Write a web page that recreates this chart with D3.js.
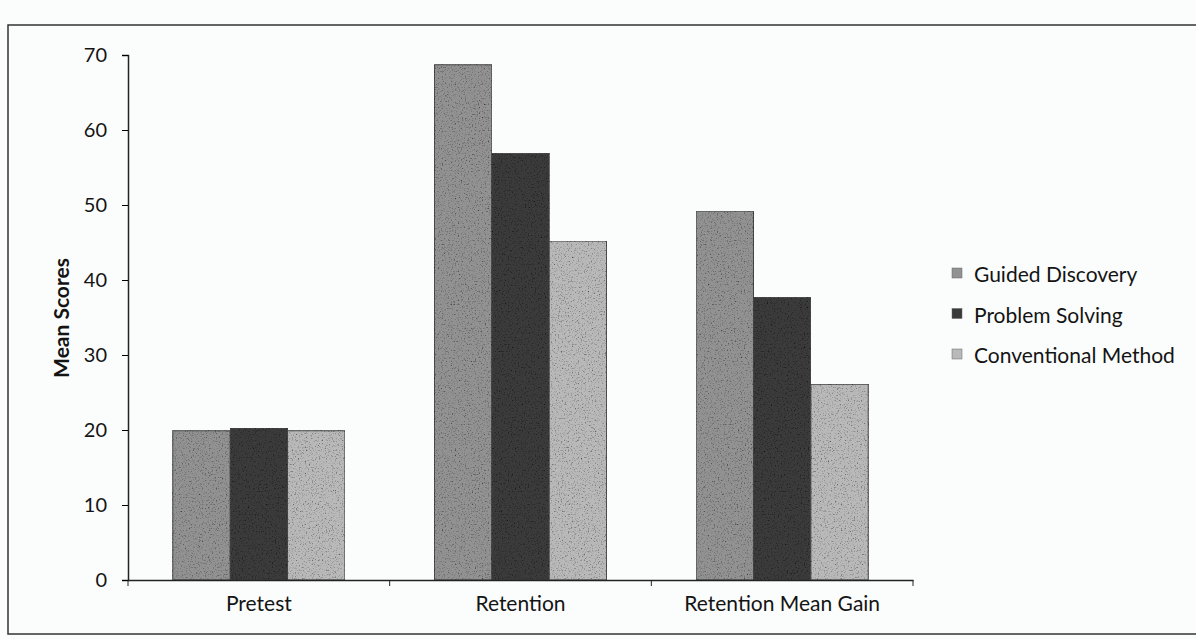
<!DOCTYPE html>
<html>
<head>
<meta charset="utf-8">
<script src="https://cdn.jsdelivr.net/npm/d3@7"></script>
<style>
body{margin:0;background:#fbfdfd;}
text{font-family:Lato,'Open Sans',sans-serif;fill:#141414;}
</style>
</head>
<body>
<script>
var categories=['Pretest','Retention','Retention Mean Gain'];
var seriesNames=['Guided Discovery','Problem Solving','Conventional Method'];
var guidedDiscovery=[19.9,68.7,49.2];
var problemSolving=[20.2,56.9,37.7];
var conventionalMethod=[19.9,45.2,26.1];
var yTickValues=[0,10,20,30,40,50,60,70];
var seriesColors=['#929292','#3a3a3a','#b9b9b9'];

var width=1196;
var height=639;

var seriesValues=[guidedDiscovery,problemSolving,conventionalMethod];
var table=categories.map(function(c,i){
    return {category:c,values:seriesNames.map(function(s,j){return {series:s,value:seriesValues[j][i]};})};
});

var svg=d3.select('body')
.append('svg')
.attr('width',width)
.attr('height',height);

// speckle like the scanned print
var grain=svg.append('defs')
.append('filter')
.attr('id','grain')
.attr('x',0).attr('y',0).attr('width',1).attr('height',1);
grain.append('feTurbulence')
.attr('type','fractalNoise')
.attr('baseFrequency',0.7)
.attr('numOctaves',2)
.attr('seed',3)
.attr('result','noise');
grain.append('feColorMatrix')
.attr('in','noise')
.attr('type','matrix')
.attr('values','0 0 0 0 0  0 0 0 0 0  0 0 0 0 0  0 0 0 2.4 -1.3')
.attr('result','dots');
grain.append('feComposite')
.attr('in','dots')
.attr('in2','SourceGraphic')
.attr('operator','in')
.attr('result','clipped');
var merge=grain.append('feMerge');
merge.append('feMergeNode').attr('in','SourceGraphic');
merge.append('feMergeNode').attr('in','clipped');

// outer frame
svg.append('rect')
.attr('x',8)
.attr('y',25)
.attr('width',1200)
.attr('height',609)
.style('fill','none')
.style('stroke','#333')
.style('stroke-width',1.5);

var xScale=d3.scaleBand()
.domain(categories)
.range([128,913])
.paddingInner(0)
.paddingOuter(0);

var xInner=d3.scaleBand()
.domain(seriesNames)
.range([0,xScale.bandwidth()])
.paddingInner(0)
.paddingOuter(0.78);

var yScale=d3.scaleLinear()
.domain([0,70])
.range([580,55]);

var colorScale=d3.scaleOrdinal()
.domain(seriesNames)
.range(seriesColors);

var yAxis=d3.axisLeft()
.scale(yScale)
.tickValues(yTickValues)
.tickSizeInner(6)
.tickSizeOuter(6)
.tickPadding(15);

var xAxis=d3.axisBottom()
.scale(xScale)
.tickSize(0)
.tickPadding(16);

var groups=svg.append('g')
.selectAll('g')
.data(table)
.enter()
.append('g')
.attr('transform',(d)=>{
    return 'translate('+xScale(d.category)+',0)';
});

groups.selectAll('rect')
.data((d)=>d.values)
.enter()
.append('rect')
.attr('x',(d)=>xInner(d.series))
.attr('y',(d)=>yScale(d.value))
.attr('width',xInner.bandwidth())
.attr('height',(d)=>yScale(0)-yScale(d.value))
.attr('filter','url(#grain)')
.style('fill',(d)=>colorScale(d.series))
.style('stroke','#444')
.style('stroke-width',1);

var yG=svg.append('g')
.attr('transform','translate(128,0)')
.call(yAxis);
yG.selectAll('text').style('font-size','20px');
yG.select('.domain').style('stroke','#222').style('stroke-width',1.5);

var xG=svg.append('g')
.attr('transform','translate(0,580)')
.call(xAxis);
xG.selectAll('text').style('font-size','21px');
xG.select('.domain').style('stroke','#222').style('stroke-width',1.5);

// boundary ticks between categories
xG.selectAll('line.bound')
.data(categories.concat(['end']))
.enter()
.append('line')
.attr('class','bound')
.attr('x1',(d,i)=>xScale.range()[0]+i*xScale.step())
.attr('x2',(d,i)=>xScale.range()[0]+i*xScale.step())
.attr('y1',0)
.attr('y2',6)
.style('stroke','#222');

svg.append('text')
.attr('transform','translate(69,318) rotate(-90)')
.attr('text-anchor','middle')
.style('font-size','21px')
.style('font-weight','bold')
.text('Mean Scores');

var legend=svg.append('g')
.attr('transform','translate(952,282)');

var legendRows=legend.selectAll('g')
.data(seriesNames)
.enter()
.append('g')
.attr('transform',(d,i)=>'translate(0,'+(i*40.5)+')');

legendRows.append('rect')
.attr('x',0)
.attr('y',-14)
.attr('width',10)
.attr('height',10)
.style('fill',(d)=>colorScale(d))
.style('stroke','#666')
.style('stroke-width',0.5);

legendRows.append('text')
.attr('x',22)
.attr('y',0)
.style('font-size','21px')
.text((d)=>d);
</script>
</body>
</html>
